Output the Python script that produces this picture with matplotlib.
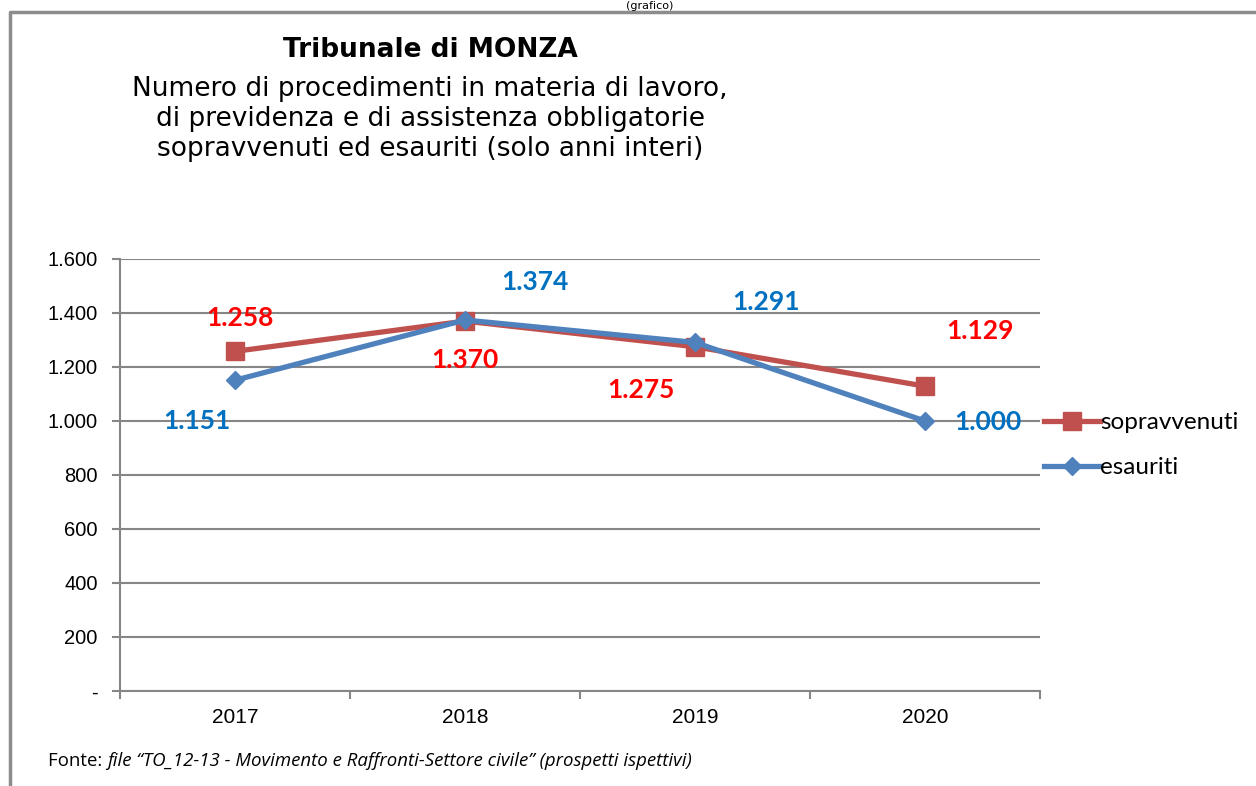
import matplotlib
matplotlib.use('Agg')
import matplotlib.pyplot as plt
from matplotlib.lines import Line2D
from matplotlib.ticker import FixedLocator, FuncFormatter

# data
anni = ['2017', '2018', '2019', '2020']
sopravvenuti = [1258, 1370, 1275, 1129]
esauriti = [1151, 1374, 1291, 1000]
yticks = [0, 200, 400, 600, 800, 1000, 1200, 1400, 1600]

RED = '#C0504D'
BLUE = '#4F81BD'
LAB_RED = '#FF0000'
LAB_BLUE = '#0070C0'

fig = plt.figure(figsize=(12.56, 7.86), dpi=100)
ax = fig.add_axes([120/1256, 1 - 691/786, 920/1256, 432/786])

x = list(range(len(anni)))
ax.plot(x, sopravvenuti, color=RED, lw=3.8, marker='s', ms=13,
        label='sopravvenuti', zorder=3)
ax.plot(x, esauriti, color=BLUE, lw=3.8, marker='D', ms=9,
        label='esauriti', zorder=4)

def it_fmt(v, pos):
    if v == 0:
        return '-'
    return f'{int(v):,}'.replace(',', '.')

ax.set_xlim(-0.5, 3.5)
ax.set_ylim(0, 1600)
ax.set_yticks(yticks)
ax.yaxis.set_major_formatter(FuncFormatter(it_fmt))
ax.grid(axis='y', color='#868686', lw=1.5)
ax.set_axisbelow(True)

# x ticks between categories, labels centred on categories
ax.set_xticks(x)
ax.set_xticklabels(anni)
ax.xaxis.set_minor_locator(FixedLocator([-0.5, 0.5, 1.5, 2.5, 3.5]))
ax.tick_params(axis='x', which='major', length=0, pad=12, labelsize=15)
ax.tick_params(axis='x', which='minor', length=6, width=1.5, color='#868686')
ax.tick_params(axis='y', length=6, width=1.5, color='#868686', labelsize=14.5, pad=10)
for lab in ax.get_xticklabels() + ax.get_yticklabels():
    lab.set_fontfamily('Liberation Sans')

for s in ['top', 'right']:
    ax.spines[s].set_visible(False)
for s in ['left', 'bottom']:
    ax.spines[s].set_color('#868686')
    ax.spines[s].set_linewidth(1.5)

# data labels (offsets in pixels from the point)
lab_font = dict(fontsize=19, fontweight='bold', family='Lato')
off_sop = [(5, 33), (0, -39), (-54, -43), (55, 55)]
off_esa = [(-38, -41), (70, 38), (71, 40), (63, -1)]

def fmt(v):
    return f'{v:,}'.replace(',', '.')

for i, v in enumerate(sopravvenuti):
    ax.annotate(fmt(v), (i, v), xytext=off_sop[i], textcoords='offset pixels',
                ha='center', va='center', color=LAB_RED, **lab_font)
for i, v in enumerate(esauriti):
    ax.annotate(fmt(v), (i, v), xytext=off_esa[i], textcoords='offset pixels',
                ha='center', va='center', color=LAB_BLUE, **lab_font)

# legend
handles = [Line2D([], [], color=RED, lw=3.8, marker='s', ms=13),
           Line2D([], [], color=BLUE, lw=3.8, marker='D', ms=9)]
leg = fig.legend(handles, ['sopravvenuti', 'esauriti'],
                 loc='upper left', bbox_to_anchor=(1032/1256, 1 - 400/786),
                 frameon=False, handlelength=2.3, handletextpad=0.0,
                 labelspacing=1.0, borderpad=0, prop=dict(family='Lato', size=17.5))

# titles
fig.text(430/1256, 1 - 50/786, 'Tribunale di MONZA', ha='center', va='center',
         fontsize=19, fontweight='bold', family='DejaVu Sans')
fig.text(430/1256, 1 - 119/786,
         'Numero di procedimenti in materia di lavoro,\n'
         'di previdenza e di assistenza obbligatorie\n'
         'sopravvenuti ed esauriti (solo anni interi)',
         ha='center', va='center', fontsize=19, family='DejaVu Sans',
         linespacing=1.2)

# caption at the very top
fig.text(650/1256, 1 - 1/786, '(grafico)', ha='center', va='top', fontsize=8,
         family='DejaVu Sans')

# frame of the chart area
fig.add_artist(Line2D([10/1256, 10/1256, 1.0], [0, 1 - 12/786, 1 - 12/786],
                      transform=fig.transFigure, color='#8C8C8C', lw=2.5))

# footer: plain "Fonte:" + italic text
t1 = fig.text(48/1256, 1 - 761/786, 'Fonte: ', ha='left', va='center',
              fontsize=13.4, family='Open Sans')
fig.canvas.draw()
bb = t1.get_window_extent()
fig.text(bb.x1 / fig.bbox.width, 1 - 761/786,
         'file \u201cTO_12-13 - Movimento e Raffronti-Settore civile\u201d (prospetti ispettivi)',
         ha='left', va='center', fontsize=13.4, family='Open Sans', style='italic')

fig.savefig('out.png', dpi=100)
